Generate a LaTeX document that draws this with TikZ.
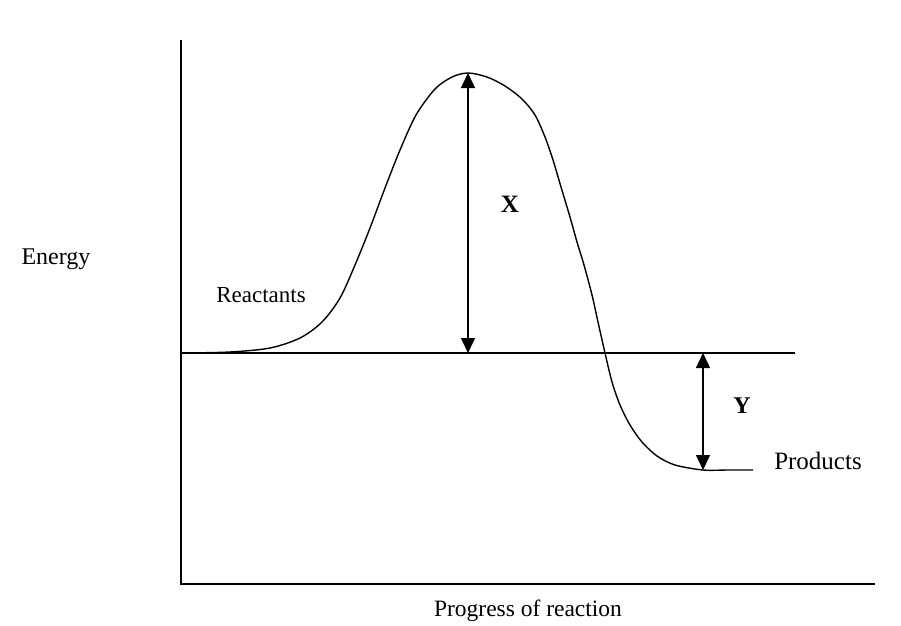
\documentclass[tikz,border=0pt]{standalone}
\usepackage{fontspec}
\setmainfont{Liberation Serif}
\usetikzlibrary{arrows.meta}
\begin{document}
\begin{tikzpicture}[x=1pt,y=-1pt, line width=1.4pt,
  lbl/.style={inner sep=0pt, anchor=base},
  axis/.style={line width=1.8pt},
  dbl/.style={{Triangle[width=14pt,length=15pt]}-{Triangle[width=14pt,length=15pt]}, line width=1.4pt}]
\useasboundingbox (0,0) rectangle (901,625);
\coordinate (ytop) at (181,40);
\coordinate (o) at (181,584);
\coordinate (xend) at (875,584);
\draw[axis] (ytop) -- (o) -- (xend);
\coordinate (l0) at (181,353);
\coordinate (l1) at (795,353);
\draw (l0) -- (l1);
\draw plot[smooth, tension=0.5] coordinates {(183,353) (230,352) (270,348) (300,338) (322,322) (340,298) (355,265) (370,228) (385,188) (400,150) (416,115) (435,89) (452,77) (468,73) (487,77) (505,86) (522,99) (535,115) (545,137) (553,160) (561,187) (570,217) (577,242) (584,265) (592,295) (598,322) (605,353) (612,382) (620,405) (630,425) (642,442) (657,456) (675,465) (703,470) (728,470) (753,470)};
\coordinate (peak) at (468,73);
\coordinate (base) at (468,353);
\draw[dbl] (peak) -- (base);
\coordinate (ytopa) at (703,353);
\coordinate (ybot) at (703,470);
\draw[dbl] (ytopa) -- (ybot);
\node[lbl, font=\fontsize{24}{28}\selectfont] (energy) at (56,264) {Energy};
\node[lbl, font=\fontsize{23}{27}\selectfont] (react) at (261,302) {Reactants};
\node[lbl, font=\fontsize{25}{29}\selectfont] (prod) at (818,469) {Products};
\node[lbl, font=\bfseries\fontsize{25}{29}\selectfont] (X) at (510,212) {X};
\node[lbl, font=\bfseries\fontsize{24}{28}\selectfont] (Y) at (742,413) {Y};
\node[lbl, font=\fontsize{23.5}{28}\selectfont] (prog) at (528,616) {Progress of reaction};
\end{tikzpicture}
\end{document}
